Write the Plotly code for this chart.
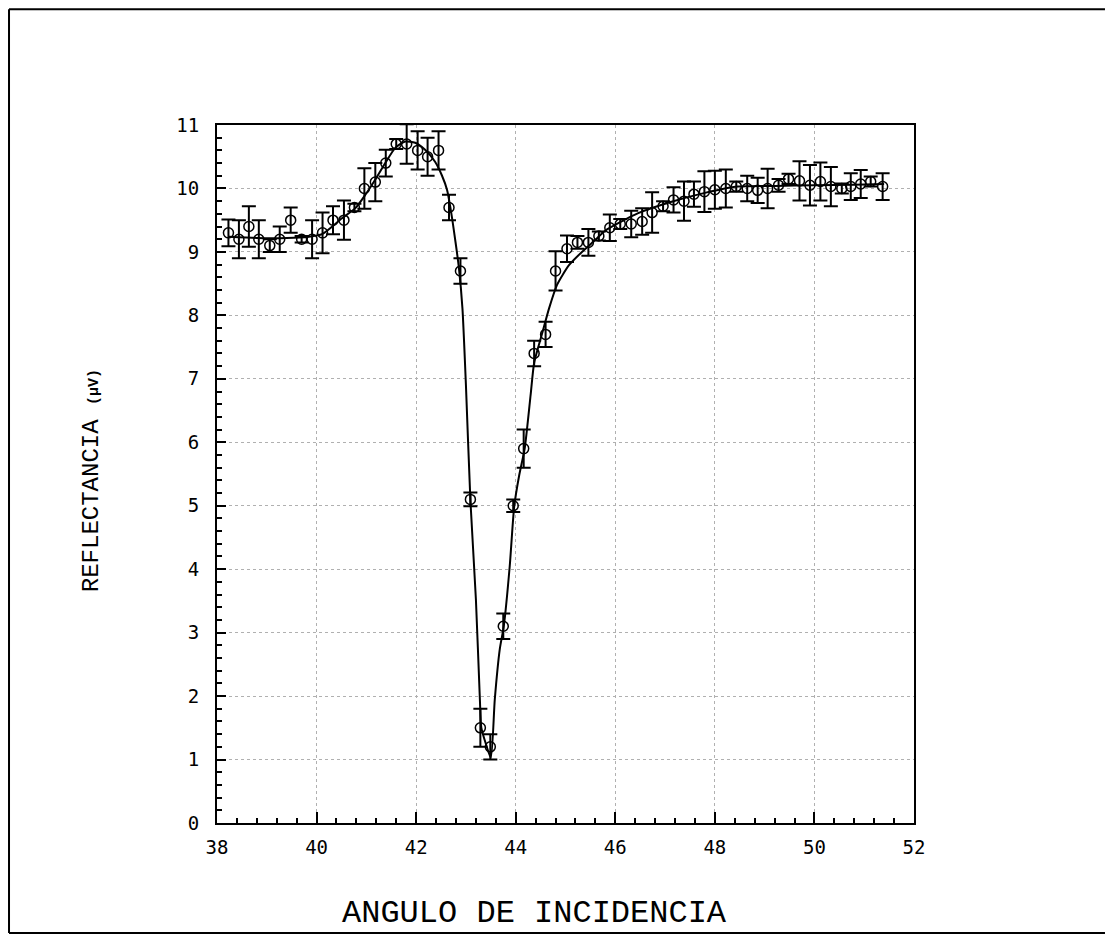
import plotly.graph_objects as go

# Measured points (angle of incidence, reflectance in microvolts, error half-width)
angle = [38.23, 38.44, 38.64, 38.84, 39.06, 39.26, 39.48, 39.70, 39.91, 40.12,
         40.33, 40.55, 40.76, 40.96, 41.18, 41.39, 41.60, 41.81, 42.03, 42.23,
         42.45, 42.66, 42.89, 43.09, 43.29, 43.49, 43.75, 43.95, 44.16, 44.37,
         44.60, 44.80, 45.03, 45.24, 45.46, 45.67, 45.89, 46.10, 46.32, 46.54,
         46.74, 46.96, 47.17, 47.38, 47.58, 47.79, 48.00, 48.22, 48.43, 48.65,
         48.86, 49.06, 49.28, 49.48, 49.70, 49.91, 50.12, 50.33, 50.55, 50.73,
         50.93, 51.13, 51.37]
reflect = [9.3, 9.2, 9.4, 9.2, 9.1, 9.2, 9.5, 9.2, 9.2, 9.3,
           9.5, 9.5, 9.7, 10.0, 10.1, 10.4, 10.7, 10.7, 10.6, 10.5,
           10.6, 9.7, 8.7, 5.1, 1.5, 1.2, 3.1, 5.0, 5.9, 7.4,
           7.7, 8.7, 9.05, 9.15, 9.15, 9.25, 9.38, 9.44, 9.44, 9.48,
           9.62, 9.72, 9.82, 9.8, 9.91, 9.95, 9.98, 10.0, 10.03, 10.0,
           9.97, 10.0, 10.05, 10.15, 10.12, 10.05, 10.11, 10.03, 10.0, 10.03,
           10.07, 10.11, 10.03]
err = [0.21, 0.3, 0.32, 0.3, 0.1, 0.2, 0.2, 0.05, 0.3, 0.32,
       0.22, 0.31, 0.06, 0.32, 0.3, 0.21, 0.08, 0.31, 0.3, 0.3,
       0.3, 0.2, 0.2, 0.11, 0.3, 0.2, 0.2, 0.1, 0.3, 0.2,
       0.2, 0.31, 0.21, 0.1, 0.21, 0.07, 0.21, 0.08, 0.21, 0.21,
       0.32, 0.08, 0.2, 0.31, 0.2, 0.32, 0.3, 0.3, 0.08, 0.2,
       0.2, 0.31, 0.1, 0.08, 0.31, 0.32, 0.3, 0.31, 0.08, 0.21,
       0.22, 0.08, 0.21]

# Fitted curve
fit_angle = [38.24, 38.8, 39.4, 39.84, 40.11, 40.51, 40.78, 40.98, 41.18, 41.38,
             41.58, 41.78, 41.98, 42.18, 42.38, 42.52, 42.62, 42.69, 42.79, 42.86,
             42.93, 43.0, 43.09, 43.2, 43.28, 43.31, 43.4, 43.5, 43.58, 43.68,
             43.76, 43.88, 43.97, 44.07, 44.18, 44.3, 44.37, 44.54, 44.67, 44.83,
             45.07, 45.33, 45.6, 45.79, 46.46, 47.13, 47.8, 48.46, 49.2, 50.0,
             50.8, 51.4]
fit_reflect = [9.24, 9.22, 9.22, 9.24, 9.28, 9.53, 9.69, 9.9, 10.14, 10.4,
               10.64, 10.74, 10.72, 10.61, 10.42, 10.2, 9.98, 9.69, 9.16, 8.74,
               8.11, 6.9, 5.08, 3.53, 1.95, 1.5, 1.25, 1.03, 1.95, 2.74,
               3.1, 4.05, 4.99, 5.48, 5.9, 6.75, 7.25, 7.74, 8.11, 8.48,
               8.79, 9.0, 9.19, 9.33, 9.61, 9.79, 9.93, 10.03, 10.04, 10.05,
               10.06, 10.07]

x_ticks = [38, 40, 42, 44, 46, 48, 50, 52]
y_ticks = list(range(0, 12))

x_title = "ANGULO DE INCIDENCIA"
y_title = "REFLECTANCIA <b><span style='font-size:15px'>(µV)</span></b>"

fig = go.Figure()
fig.add_trace(go.Scatter(
    x=fit_angle, y=fit_reflect, mode="lines",
    line=dict(color="black", width=2, shape="spline", smoothing=0.6),
    showlegend=False, hoverinfo="skip"))
fig.add_trace(go.Scatter(
    x=angle, y=reflect, mode="markers",
    marker=dict(symbol="circle-open", size=10, color="black", line=dict(width=1.5, color="black")),
    error_y=dict(type="data", array=err, visible=True, color="black", thickness=2, width=7),
    showlegend=False))

axis_common = dict(
    showline=True, linecolor="black", linewidth=2, mirror=True,
    ticks="inside", tickcolor="black", tickwidth=1.5,
    showgrid=True, gridcolor="#b0b0b0", gridwidth=1, griddash="dot",
    zeroline=False,
    tickfont=dict(family="DejaVu Sans Mono", size=19, color="black"),
)

fig.update_xaxes(range=[38, 52], tickvals=x_ticks, ticklen=11, ticklabelstandoff=6,
                 minor=dict(dtick=0.4, tick0=38, ticklen=5, ticks="inside", tickcolor="black", tickwidth=1.5, showgrid=False),
                 **axis_common)
fig.update_yaxes(range=[0, 11], tickvals=y_ticks, ticklen=9, ticklabelstandoff=12,
                 minor=dict(dtick=0.2, tick0=0, ticklen=5, ticks="inside", tickcolor="black", tickwidth=1.5, showgrid=False),
                 **axis_common)

fig.add_annotation(text=x_title, xref="paper", yref="paper", x=0.456, y=-0.129,
                   showarrow=False, xanchor="center", yanchor="middle",
                   font=dict(family="Liberation Mono", size=32, color="black"))
fig.add_annotation(text=y_title, xref="paper", yref="paper", x=-0.179, y=0.49,
                   showarrow=False, xanchor="center", yanchor="middle", textangle=-90,
                   font=dict(family="Liberation Mono", size=24, color="black"))

# outer frame of the page (left, top and bottom edges)
frame_x0, frame_x1, frame_y0, frame_y1 = -0.2984, 1.274, -0.1576, 1.166
for (xa, ya, xb, yb) in [(frame_x0, frame_y0, frame_x0, frame_y1),
                         (frame_x0, frame_y1, frame_x1, frame_y1),
                         (frame_x0, frame_y0, frame_x1, frame_y0)]:
    fig.add_shape(type="line", xref="paper", yref="paper",
                  x0=xa, y0=ya, x1=xb, y1=yb,
                  line=dict(color="black", width=2), layer="below")

fig.update_layout(
    width=1098, height=927,
    margin=dict(l=209, r=192, t=117, b=112),
    paper_bgcolor="white", plot_bgcolor="white",
)

fig.write_html("out.html")
